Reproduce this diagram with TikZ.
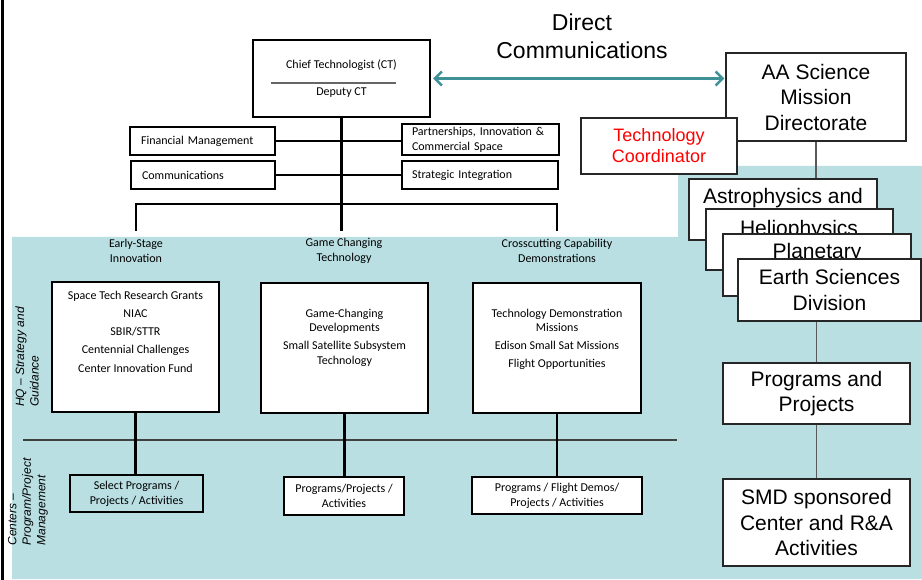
\documentclass[tikz,border=0pt]{standalone}
\usepackage{fontspec}
\setmainfont{Liberation Sans}
\newfontfamily\calib{Carlito}
\usetikzlibrary{arrows.meta}
\definecolor{tealbg}{RGB}{185,223,226}
\definecolor{arrowteal}{RGB}{62,145,150}
\definecolor{redtxt}{RGB}{255,0,0}
\begin{document}
\begin{tikzpicture}[x=1pt,y=-1pt,
  lbox/.style={draw=black, line width=2.3pt, fill=white, inner sep=0pt},
  rbox/.style={draw=black!85, line width=1.1pt, fill=white, inner sep=0pt},
  small/.style={font=\calib\fontsize{12}{15}\selectfont, align=center},
  big/.style={font=\fontsize{21}{25.5}\selectfont, align=center},
  conn/.style={line width=2.3pt},
  rconn/.style={draw=black!65, line width=1.3pt},
  sidelabel/.style={rotate=90, align=left, font=\itshape\fontsize{12}{14.5}\selectfont}]

\useasboundingbox (0,0) rectangle (922,580);
\fill[white] (0,0) rectangle (922,580);
\fill[tealbg] (12,237) -- (678,237) -- (678,166) -- (922,166) -- (922,579) -- (12,579) -- cycle;
\draw[line width=3pt] (2,0) -- (2,580);

% ---------- top left hierarchy ----------
\node[lbox, minimum width=177pt, minimum height=77pt] (ct) at (341.5,78.5) {};
\node[small] (cttext) at (341.5,65) {Chief Technologist (CT)};
\coordinate (sepL) at (271,83);
\coordinate (sepR) at (396,83);
\draw[black!60, line width=1.6pt] (sepL) -- (sepR);
\node[small] (deputy) at (341.5,93) {Deputy CT};

\node[lbox, small, minimum width=145pt, minimum height=28pt, text width=123pt, inner xsep=11pt, align=left] (fm) at (202.5,141) {Financial Management};
\node[lbox, small, minimum width=144pt, minimum height=28pt, text width=122pt, inner xsep=11pt, align=left] (comm) at (203,175) {Communications};
\node[lbox, small, minimum width=157pt, minimum height=31pt, text width=137pt, inner xsep=10pt, align=left] (part) at (480.5,139.5) {Partnerships, Innovation \&\\Commercial Space};
\node[lbox, small, minimum width=156pt, minimum height=28pt, text width=136pt, inner xsep=10pt, align=left] (strat) at (480,175) {Strategic Integration};

\coordinate (ctend) at (341.5,231);
\coordinate (busL) at (136,204);
\coordinate (busR) at (557,204);
\coordinate (dropL) at (136,231);
\coordinate (dropR) at (557,231);
\draw[conn] (ct.south) -- (ctend);
\draw[conn] (fm.east) -- (fm.east -| part.west);
\draw[conn] (comm.east) -- (strat.west);
\draw[conn] (dropL) -- (busL) -- (busR) -- (dropR);

% ---------- direct communications ----------
\node[font=\fontsize{23}{28}\selectfont, align=center] (dc) at (582,36) {Direct\\Communications};

% ---------- lower left ----------
\node[small] (l1) at (136,251) {Early-Stage\\Innovation};
\node[small] (l2) at (344,251) {Game Changing\\Technology};
\node[small] (l3) at (557,251) {Crosscutting Capability\\Demonstrations};

\node[lbox, minimum width=167pt, minimum height=130pt] (esi) at (135.5,347) {};
\node[small, font=\calib\fontsize{12}{18.3}\selectfont] (esitext) at (135.5,331.5) {Space Tech Research Grants\\NIAC\\SBIR/STTR\\Centennial Challenges\\Center Innovation Fund};

\node[lbox, minimum width=167pt, minimum height=130pt] (gct) at (344.5,348) {};
\node[small, font=\calib\fontsize{12}{14.5}\selectfont] (gcttext) at (344.5,337.5) {Game-Changing\\Developments\\[3.5pt]Small Satellite Subsystem\\Technology};

\node[lbox, minimum width=168pt, minimum height=130pt] (ccd) at (557,348) {};
\node[small, font=\calib\fontsize{12}{14.5}\selectfont] (ccdtext) at (557,339.5) {Technology Demonstration\\Missions\\[3.5pt]Edison Small Sat Missions\\[3.5pt]Flight Opportunities};

\coordinate (divL) at (23,440);
\coordinate (divR) at (677,440);
\draw[black!75, line width=2pt] (divL) -- (divR);

\node[lbox, small, fill=tealbg, minimum width=133pt, minimum height=37pt] (sel) at (136.5,493.5) {Select Programs /\\Projects / Activities};
\node[lbox, small, minimum width=120pt, minimum height=38pt] (pp) at (344,496) {Programs/Projects /\\Activities};
\node[lbox, small, minimum width=170pt, minimum height=37pt] (pfd) at (557,495.5) {Programs / Flight Demos/\\Projects / Activities};

\draw[conn] (esi.south) -- (esi.south |- sel.north);
\draw[conn] (gct.south) -- (gct.south |- pp.north);
\draw[conn] (ccd.south) -- (ccd.south |- pfd.north);

\node[sidelabel] (hq) at (27,357) {HQ – Strategy and\\Guidance};
\node[sidelabel] (centers) at (28,502) {Centers –\\Program/Project\\Management};

% ---------- right column ----------
\node[rbox, big, minimum width=180pt, minimum height=88pt] (aa) at (816,97) {AA Science\\Mission\\Directorate};
\node[rbox, minimum width=156pt, minimum height=56pt, font=\fontsize{18}{21}\selectfont, align=center, text=redtxt] (tc) at (659,146) {Technology\\Coordinator};

\draw[arrowteal, line width=2.5pt, {Straight Barb[length=7pt,width=14pt]}-{Straight Barb[length=7pt,width=14pt]}, shorten <=2pt, shorten >=1pt] (ct.east) -- (ct.east -| aa.west);

\node[rbox, minimum width=188pt, minimum height=61pt] (astro) at (783,209.5) {};
\node[big] (astrotext) at (783,198) {Astrophysics and};
\node[rbox, minimum width=187pt, minimum height=61pt] (helio) at (799.5,239.5) {};
\node[big] (heliotext) at (799,230) {Heliophysics};
\node[rbox, minimum width=188pt, minimum height=62pt] (plan) at (817,265) {};
\node[big] (plantext) at (817,253) {Planetary};
\node[rbox, big, minimum width=183pt, minimum height=62pt] (earth) at (829.5,290) {Earth Sciences\\Division};

\draw[rconn] (aa.south) -- (aa.south |- astro.north);

\node[rbox, big, minimum width=187pt, minimum height=61pt] (progs) at (816.5,393.5) {Programs and\\Projects};
\node[rbox, big, minimum width=187pt, minimum height=87pt] (smd) at (816.5,522.5) {SMD sponsored\\Center and R\&A\\Activities};

\draw[rconn] (progs.north |- earth.south) -- (progs.north);
\draw[rconn] (progs.south) -- (smd.north);
\end{tikzpicture}
\end{document}
